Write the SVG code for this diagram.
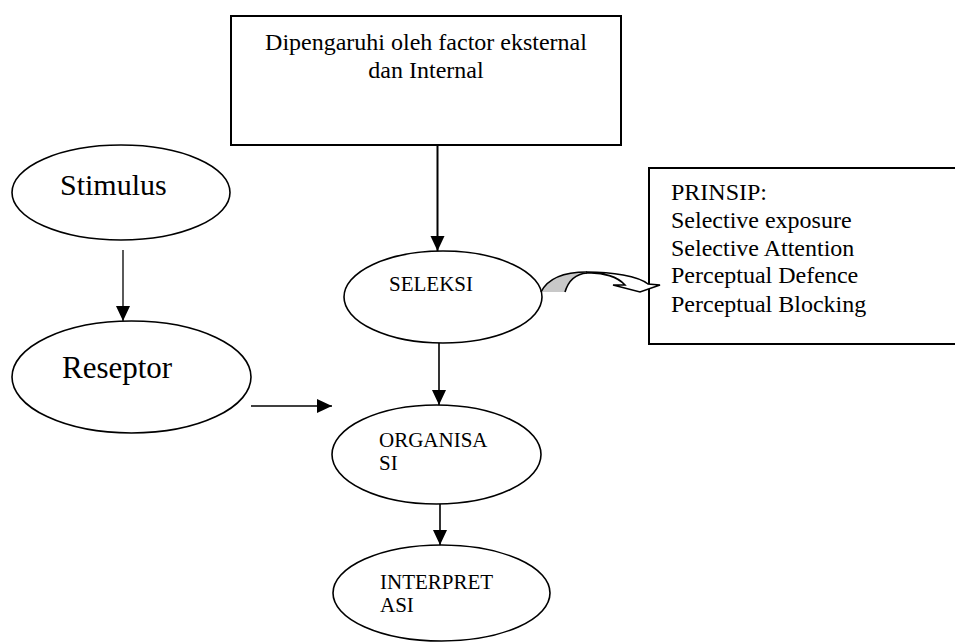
<svg xmlns="http://www.w3.org/2000/svg" width="955" height="643" viewBox="0 0 955 643">
<style>
text{font-family:"Liberation Serif","Times New Roman",serif;fill:#000}
.box{fill:#fff;stroke:#000;stroke-width:2}
.ell{fill:#fff;stroke:#000;stroke-width:1.6}
.con{stroke:#000;fill:none}
</style>
<defs>
<marker id="ah" markerUnits="userSpaceOnUse" markerWidth="16" markerHeight="16" refX="15" refY="7" orient="auto">
<path d="M0,0 L15,7 L0,14 Z" fill="#000"/>
</marker>
</defs>
<rect width="955" height="643" fill="#fff"/>
<g id="faktor">
<rect class="box" x="231" y="16" width="390" height="129"/>
<text x="426" y="50" font-size="24" text-anchor="middle">Dipengaruhi oleh factor eksternal</text>
<text x="426" y="78" font-size="24" text-anchor="middle">dan Internal</text>
</g>
<g id="prinsip">
<rect class="box" x="649" y="168" width="320" height="176"/>
<text x="671" y="200" font-size="24">PRINSIP:</text>
<text x="671" y="228" font-size="24">Selective exposure</text>
<text x="671" y="256" font-size="24">Selective Attention</text>
<text x="671" y="283" font-size="24">Perceptual Defence</text>
<text x="671" y="312" font-size="24">Perceptual Blocking</text>
</g>
<g id="stimulus">
<ellipse class="ell" cx="121" cy="192.5" rx="109" ry="47.5"/>
<text x="60" y="195" font-size="30">Stimulus</text>
</g>
<g id="reseptor">
<ellipse class="ell" cx="131.5" cy="377" rx="119.5" ry="56"/>
<text x="62" y="378" font-size="31">Reseptor</text>
</g>
<g id="seleksi">
<ellipse class="ell" cx="443" cy="297" rx="99" ry="46"/>
<text x="389" y="291" font-size="21">SELEKSI</text>
</g>
<g id="organisasi">
<ellipse class="ell" cx="436.5" cy="454.5" rx="104.5" ry="49.5"/>
<text x="379" y="447" font-size="21">ORGANISA</text>
<text x="379" y="470" font-size="21">SI</text>
</g>
<g id="interpretasi">
<ellipse class="ell" cx="441.5" cy="593" rx="108.5" ry="48"/>
<text x="380" y="589" font-size="21">INTERPRET</text>
<text x="380" y="612" font-size="21">ASI</text>
</g>
<g id="connectors">
<line class="con" x1="437.5" y1="145" x2="437.5" y2="251" stroke-width="2" marker-end="url(#ah)"/>
<line class="con" x1="439" y1="343" x2="439" y2="405" stroke-width="1.6" marker-end="url(#ah)"/>
<line class="con" x1="440" y1="504" x2="440" y2="545" stroke-width="1.6" marker-end="url(#ah)"/>
<line class="con" x1="123" y1="250" x2="123" y2="321" stroke-width="1.3" marker-end="url(#ah)"/>
<line class="con" x1="251" y1="406" x2="332" y2="406" stroke-width="1.6" marker-end="url(#ah)"/>
<g id="curved-arrow">
<path d="M541,292 C548,278 565,272 587,272 C575,274 568,282 565,292 Z" fill="#c8c8c8" stroke="none"/>
<path d="M541,292 C548,278 565,272 587,272 M565,292 C568,282 575,274 587,273" fill="none" stroke="#000" stroke-width="1.6"/>
<path d="M587,272 C612,272 638,276 648,284 L660,285 L640,292 L613,285 L625,285 C618,277 603,272 587,273 Z" fill="#fff" stroke="#000" stroke-width="1.6" stroke-linejoin="miter"/>
</g>
</g>
</svg>
